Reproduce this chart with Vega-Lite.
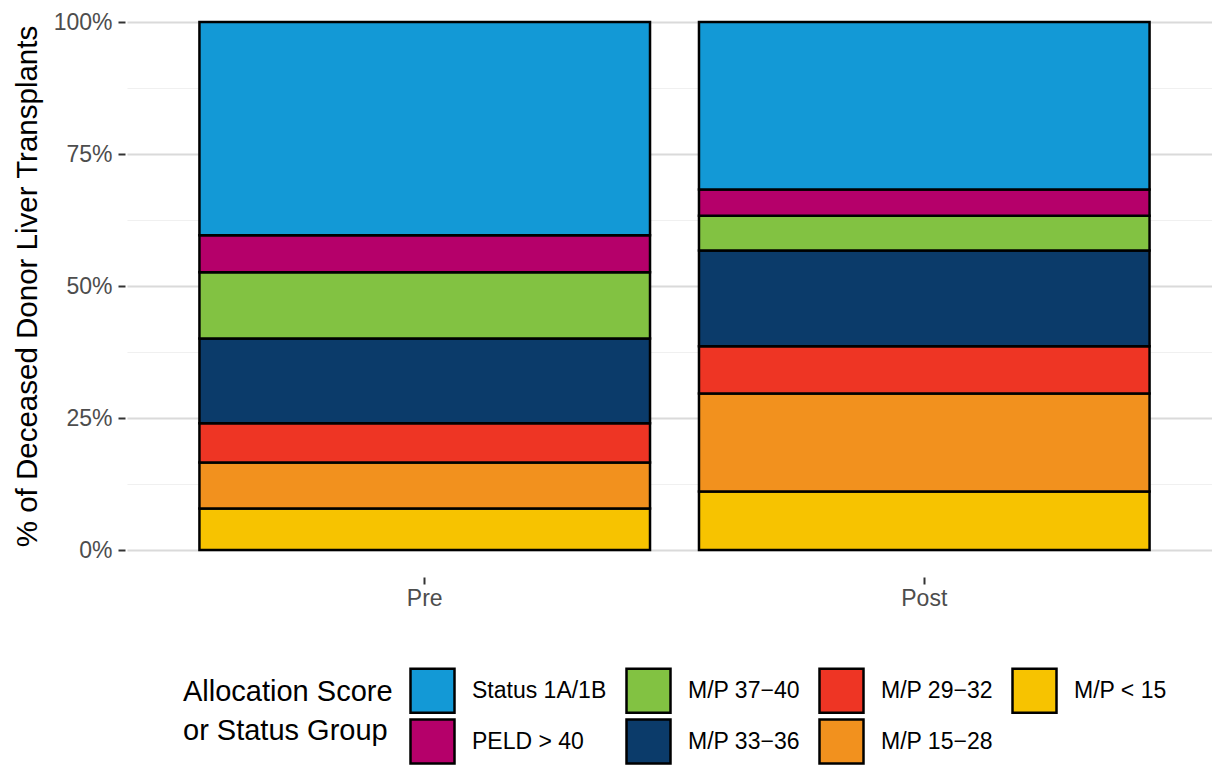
{
  "$schema": "https://vega.github.io/schema/vega-lite/v6.json",
  "width": 1085,
  "height": 528,
  "autosize": {"type": "none"},
  "padding": {"left": 127, "top": 22, "right": 0, "bottom": 218},
  "config": {
    "view": {"stroke": null},
    "font": "Liberation Sans",
    "background": "white"
  },
  "data": {
    "values": [
      {"period": "Pre", "group": "M/P < 15", "ord": 1, "pct": 7.84},
      {"period": "Pre", "group": "M/P 15−28", "ord": 2, "pct": 8.71},
      {"period": "Pre", "group": "M/P 29−32", "ord": 3, "pct": 7.45},
      {"period": "Pre", "group": "M/P 33−36", "ord": 4, "pct": 16.04},
      {"period": "Pre", "group": "M/P 37−40", "ord": 5, "pct": 12.56},
      {"period": "Pre", "group": "PELD > 40", "ord": 6, "pct": 7.0},
      {"period": "Pre", "group": "Status 1A/1B", "ord": 7, "pct": 40.4},
      {"period": "Post", "group": "M/P < 15", "ord": 1, "pct": 11.06},
      {"period": "Post", "group": "M/P 15−28", "ord": 2, "pct": 18.56},
      {"period": "Post", "group": "M/P 29−32", "ord": 3, "pct": 8.98},
      {"period": "Post", "group": "M/P 33−36", "ord": 4, "pct": 18.1},
      {"period": "Post", "group": "M/P 37−40", "ord": 5, "pct": 6.6},
      {"period": "Post", "group": "PELD > 40", "ord": 6, "pct": 5.0},
      {"period": "Post", "group": "Status 1A/1B", "ord": 7, "pct": 31.7}
    ]
  },
  "mark": {"type": "bar", "stroke": "black", "strokeWidth": 2.5},
  "encoding": {
    "x": {
      "field": "period",
      "type": "nominal",
      "sort": ["Pre", "Post"],
      "scale": {"range": [0, 1095], "paddingInner": 0.098, "paddingOuter": 0.145},
      "axis": {
        "title": null,
        "labelAngle": 0,
        "domain": false,
        "grid": false,
        "ticks": true,
        "tickColor": "#333333",
        "tickSize": 7,
        "tickWidth": 2,
        "offset": 27,
        "labelFontSize": 23,
        "labelColor": "#4D4D4D",
        "labelPadding": 3
      }
    },
    "y": {
      "field": "pct",
      "type": "quantitative",
      "stack": "normalize",
      "scale": {"domain": [0, 1], "nice": false},
      "axis": {
        "title": "% of Deceased Donor Liver Transplants",
        "titleFontSize": 29.5,
        "titleFontWeight": "normal",
        "titleColor": "black",
        "titlePadding": 11,
        "values": [0, 0.125, 0.25, 0.375, 0.5, 0.625, 0.75, 0.875, 1],
        "labelExpr": "(datum.value * 8) % 2 == 0 ? format(datum.value, '.0%') : ''",
        "domain": false,
        "offset": 2,
        "tickSize": 7,
        "tickWidth": 2,
        "tickColor": "#333333",
        "tickOpacity": {"condition": {"test": "(datum.value * 8) % 2 == 1", "value": 0}, "value": 1},
        "gridColor": {"condition": {"test": "(datum.value * 8) % 2 == 1", "value": "#F0F0F0"}, "value": "#DADADA"},
        "gridWidth": {"condition": {"test": "(datum.value * 8) % 2 == 1", "value": 1.2}, "value": 2},
        "labelFontSize": 23,
        "labelColor": "#4D4D4D",
        "labelPadding": 6
      }
    },
    "color": {
      "field": "group",
      "type": "nominal",
      "scale": {
        "domain": ["Status 1A/1B", "M/P 37−40", "M/P 29−32", "M/P < 15", "PELD > 40", "M/P 33−36", "M/P 15−28"],
        "range": ["#1399D6", "#82C242", "#EE3524", "#F7C300", "#B5006A", "#0B3B6A", "#F2911E"]
      },
      "legend": {
        "orient": "none",
        "legendX": 56,
        "legendY": 645,
        "direction": "horizontal",
        "columns": 4,
        "title": ["Allocation Score", "or Status Group"],
        "titleOrient": "left",
        "titleAnchor": "middle",
        "titleBaseline": "middle",
        "titleAlign": "left",
        "titleFontSize": 29,
        "titleFontWeight": "normal",
        "titleColor": "black",
        "titleLineHeight": 39,
        "titlePadding": 16,
        "titleLimit": 400,
        "symbolType": "square",
        "symbolSize": 1936,
        "symbolStrokeColor": "black",
        "symbolStrokeWidth": 2.5,
        "symbolOpacity": 1,
        "labelFontSize": 23,
        "labelColor": "black",
        "labelOffset": 16,
        "labelLimit": 300,
        "columnPadding": 14,
        "rowPadding": -9,
        "encode": {"title": {"update": {"dy": {"value": -6}}}}
      }
    },
    "order": {"field": "ord", "type": "quantitative"}
  }
}
